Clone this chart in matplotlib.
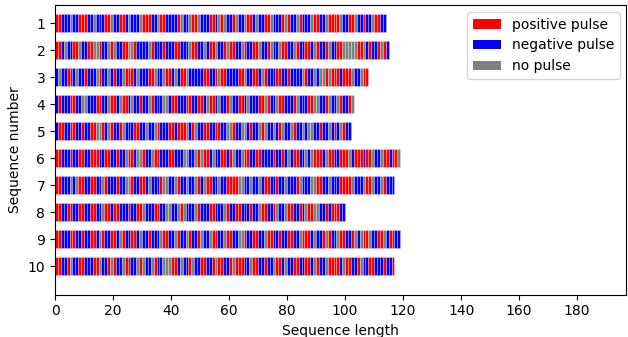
import matplotlib
matplotlib.use("Agg")
import matplotlib.pyplot as plt
from matplotlib.patches import Patch

# Pulse sequences: R = positive, B = negative, G = no pulse
seq_1 = ("RRBBBGBBRR" "RBBGBBBRRG" "BBRRBGBBBG" "RRRBBGRRBB" "BBRGBBGRRG" "BBBRRBGRGB"
         "BRGBBGRRBG" "BBRRGBBBRG" "RBBGRBBBGR" "RBBGRRRRGB" "BRRGBBRBBG" "RRBB")
seq_2 = ("RRBGBBRRGB" "BRRGGRBBGR" "GBBRRGGRBB" "BBGRBBBRBB" "BRRBBBGRRB" "BGBRRGBBRG"
         "RRBBGRBBRR" "GBBRGBBGRR" "BBGRBBRRBG" "RBBRGBBRRG" "GGGGRRGBRB" "BRGRB")
seq_3 = ("BGBBRRBGBB" "RBBBGRBBGB" "RBBGRRRBGB" "BBRRGBBGRR" "BGBRRGBBBB" "BRRBBRGRRB"
         "BBBRRGBBRR" "BGRBBBRRBB" "RBBBBGRBBG" "BGGRGRRRBR" "RRGBBGRR")
seq_4 = ("BRBBBRRBBG" "GBBBRRBBGR" "RBGRRBGBBR" "BBGRBBBGGB" "RRBBBRRBBR" "RBGRRBGBBR"
         "GBBRRBGBBB" "RRGRBBGRRB" "BBRGBBBRRG" "GBBRGBBGRB" "BRG")
seq_5 = ("BRRBBRRBBR" "BBRRGGRBGR" "BBRGBBBRRB" "BGBBGRBBBR" "RBRRRGBRGB" "BRRBBRRBBG"
         "GRBBGGBRBB" "GRGBBGBRGB" "BGRBBGBGGB" "BRBBGBRBGR" "BB")
seq_6 = ("RRBBBRBBRR" "BBRRRBBRRB" "BRBBGRRBGG" "RBBGRRBBBR" "RBBBGGBBGR" "GRRBGBBRRB"
         "RGBBGRRBBR" "RBBBBRBBRB" "GBRRBBGBGR" "RRBGRRBBRR" "RGBRRRBRRG" "BBGRRBRRG")
seq_7 = ("RRBBBGBGRR" "BBRRBBGRBB" "BRBBGGRBBR" "RBGBBBRGGB" "BGRBBGBBGR" "BGRRBBGBBR"
         "RRRGGBBGBB" "GBRRBBRBBG" "BBBRGBBBGG" "RRBBGBBBRR" "RRGBBBGRRG" "BBGRBBB")
seq_8 = ("RRBBRRBBRR" "BBRRBBGRRB" "RRBBBRBBRR" "GBBBRRBBGG" "BBGRGBBBGR" "BBBRRBBBGR"
         "BBRRBBBRBB" "GRRBBRGBBG" "RRBBRBGRRG" "GBBRBRRRBB")
seq_9 = ("RRBBBRRBBR" "BBRRBGRBBR" "RBGRBBRRBG" "BBRBBBGRRB" "BGRBBGRBBR" "GBBGRRBBGR"
         "RBBGGRBBRR" "BBGRRBBRBB" "RRBBGRRRBG" "BBRGRBBGRR" "BBRGBGRRGB" "BRRGBRRBB")
seq_10 = ("RRBBRGBBRR" "BBBRRGBBRG" "RBBGRRBBGR" "GBBGRBBGGG" "RRBGBBRGBB" "RRBBRGRRBB"
          "RGRRRBBGRR" "BBRBBGRRBG" "BBRRBBRRBG" "RBBGRRRRBG" "RRBBRGBBRR" "BBBRBBR")

sequences = [seq_1, seq_2, seq_3, seq_4, seq_5, seq_6, seq_7, seq_8, seq_9, seq_10]
seq_numbers = list(range(1, 11))
labels = ["positive pulse", "negative pulse", "no pulse"]
codes = ["R", "B", "G"]
colors = {"R": "#ff0000", "B": "#0000ff", "G": "#808080"}

fig = plt.figure(figsize=(6.28, 3.37), dpi=100)
ax = fig.add_axes([0.0876, 0.1255, 0.9100, 0.8595])

for num, seq in zip(seq_numbers, sequences):
    lefts = list(range(len(seq)))
    cols = [colors[c] for c in seq]
    ax.barh([num] * len(seq), [1] * len(seq), left=lefts, height=0.68,
            color=cols, edgecolor=(1, 1, 1, 0.45), linewidth=0.4)

ax.set_xlim(0, 197)
ax.set_ylim(11.06, 0.33)
ax.set_yticks(seq_numbers)
ax.set_xticks(range(0, 181, 20))
ax.set_xlabel("Sequence length")
ax.set_ylabel("Sequence number")

handles = [Patch(facecolor=colors[c], label=l) for c, l in zip(codes, labels)]
ax.legend(handles=handles, loc="upper right")

fig.savefig("out.png", dpi=100)
